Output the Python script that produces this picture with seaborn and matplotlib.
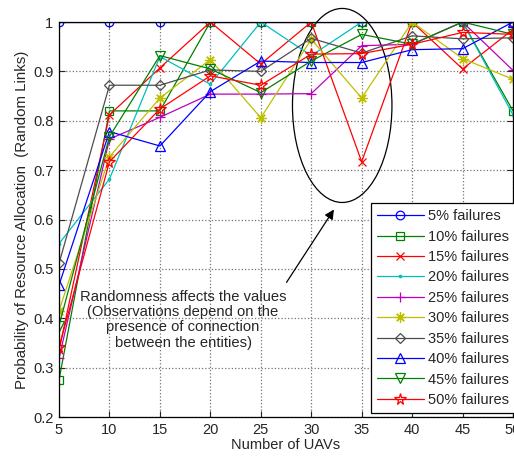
import pandas as pd
import matplotlib
matplotlib.use('Agg')
import matplotlib.pyplot as plt
from matplotlib.patches import Ellipse
import seaborn as sns

# number of UAVs on the x axis
uavs = [5, 10, 15, 20, 25, 30, 35, 40, 45, 50]

# probability values, one list per failure rate
fail_05 = [1.0, 1.0, 1.0, 1.0, 1.0, 1.0, 1.0, 1.0, 1.0, 1.0]
fail_10 = [0.275, 0.82, 0.82, 1.0, 1.0, 1.0, 1.0, 1.0, 1.0, 0.82]
fail_15 = [0.335, 0.812, 0.907, 1.0, 0.915, 1.0, 0.717, 1.0, 0.905, 0.985]
fail_20 = [0.551, 0.682, 0.93, 0.874, 1.0, 0.932, 1.0, 1.0, 1.0, 0.812]
fail_25 = [0.319, 0.763, 0.807, 0.854, 0.854, 0.855, 0.952, 0.955, 1.0, 0.902]
fail_30 = [0.415, 0.727, 0.846, 0.924, 0.806, 0.965, 0.846, 1.0, 0.926, 0.884]
fail_35 = [0.511, 0.872, 0.872, 0.903, 0.90, 0.967, 0.937, 0.972, 0.966, 0.968]
fail_40 = [0.467, 0.778, 0.749, 0.859, 0.921, 0.918, 0.918, 0.944, 0.946, 1.0]
fail_45 = [0.385, 0.768, 0.932, 0.905, 0.857, 0.921, 0.975, 0.955, 1.0, 0.975]
fail_50 = [0.341, 0.717, 0.824, 0.891, 0.872, 0.935, 0.936, 0.955, 0.979, 0.975]

labels = ['5% failures', '10% failures', '15% failures', '20% failures', '25% failures',
          '30% failures', '35% failures', '40% failures', '45% failures', '50% failures']
series = [fail_05, fail_10, fail_15, fail_20, fail_25,
          fail_30, fail_35, fail_40, fail_45, fail_50]

# matlab style colours and markers
colors = [(0, 0, 1), (0, 0.5, 0), (1, 0, 0), (0, 0.75, 0.75), (0.75, 0, 0.75),
          (0.75, 0.75, 0), (0.3, 0.3, 0.3), (0, 0, 1), (0, 0.5, 0), (1, 0, 0)]
markers = ['o', 's', 'x', '.', '+', (8, 2, 0), 'D', '^', 'v', '*']
msizes = [6.2, 5.5, 5.5, 3.5, 7.5, 7.5, 5.5, 7.5, 7.5, 8.5]

sns.set_style('ticks')
plt.rcParams['font.family'] = ['Liberation Sans', 'DejaVu Sans']
plt.rcParams['font.size'] = 10.5

fig = plt.figure(figsize=(5.14, 4.57), dpi=100)
ax = fig.add_axes([0.1148, 0.0875, 0.8833, 0.8643])

for vals, lab, c, m, s in zip(series, labels, colors, markers, msizes):
    df = pd.DataFrame({'uavs': uavs, 'prob': vals})
    sns.lineplot(data=df, x='uavs', y='prob', ax=ax, color=c, marker=m, label=lab,
                 markersize=s, markerfacecolor='none', markeredgecolor=c,
                 markeredgewidth=0.9, linewidth=0.9, legend=False)

ax.set_xlim(5, 50)
ax.set_ylim(0.2, 1)
ax.set_xticks(uavs)
ax.set_yticks([0.2, 0.3, 0.4, 0.5, 0.6, 0.7, 0.8, 0.9, 1.0])
ax.set_yticklabels(['0.2', '0.3', '0.4', '0.5', '0.6', '0.7', '0.8', '0.9', '1'])
ax.grid(True, linestyle=':', color='0.45', linewidth=0.9)
ax.tick_params(direction='in', top=True, right=True, length=4, labelsize=10.5, pad=4)
for sp in ax.spines.values():
    sp.set_visible(True)
    sp.set_color('black')
    sp.set_linewidth(0.9)

ax.set_xlabel('Number of UAVs', fontsize=10.5, labelpad=1)
ax.set_ylabel('Probability of Resource Allocation  (Random Links)', fontsize=10.8, labelpad=3)

# ellipse round the irregular points and the note
ax.add_patch(Ellipse((33.07, 0.831), 9.86, 0.393, fill=False, edgecolor='black',
                     linewidth=0.9, clip_on=False))
ax.annotate('', xy=(32.4, 0.625), xytext=(27.4, 0.468),
            arrowprops=dict(arrowstyle='-|>', color='black', lw=0.9, mutation_scale=14))
ax.text(17.3, 0.397, 'Randomness affects the values\n(Observations depend on the\n'
        'presence of connection\nbetween the entities)',
        ha='center', va='center', fontsize=10.6, linespacing=1.13)

leg = ax.legend(loc='lower right', bbox_to_anchor=(1.005, 0.01), fontsize=10.5,
                frameon=True, fancybox=False, framealpha=1, edgecolor='black',
                handlelength=3.2, handletextpad=0.32, labelspacing=0.44,
                borderaxespad=0, borderpad=0.42)
leg.get_frame().set_linewidth(0.9)

plt.savefig('out.png', dpi=100)
